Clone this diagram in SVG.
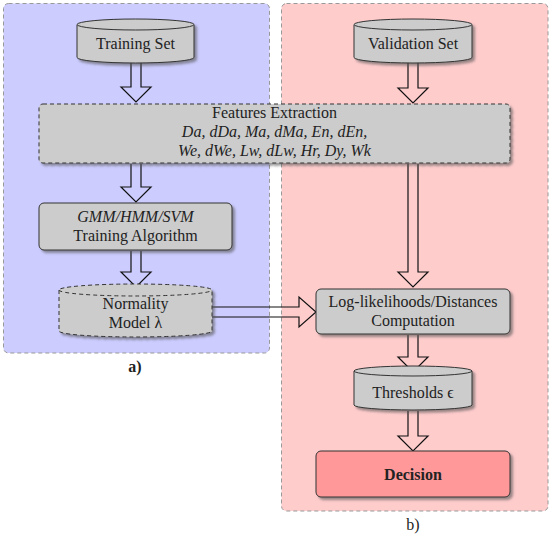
<svg xmlns="http://www.w3.org/2000/svg" width="550" height="536" viewBox="0 0 550 536">
<defs>
<filter id="sh" x="-10%" y="-10%" width="130%" height="140%">
<feDropShadow dx="2.5" dy="2.5" stdDeviation="1.2" flood-color="#555" flood-opacity="0.6"/>
</filter>
<style>
.panel{stroke:#999;stroke-width:1;stroke-dasharray:4 3}
.node{fill:#cccccc;stroke:#333;stroke-width:1}
.dash{stroke-dasharray:4 3}
.arr{fill:none;stroke:#111;stroke-width:1.2;stroke-linejoin:miter}
.t{font-family:'Liberation Serif','DejaVu Serif',serif;font-size:16px;fill:#222;text-anchor:middle}
.it{font-style:italic}
.b{font-weight:bold}
</style>
</defs>
<rect width="550" height="536" fill="#fff"/>
<g id="panel-a"><rect class="panel" x="3.5" y="3.5" width="266" height="349.5" rx="5" fill="#ccccff"/></g>
<g id="panel-b"><rect class="panel" x="281.5" y="3.5" width="266.5" height="507.5" rx="5" fill="#ffcccc"/></g>

<g id="connectors">
<path class="arr" d="M131,63 V87 H121 L136,102 L151,87 H141 V63"/>
<path class="arr" d="M408,63 V88 H398 L413,103 L428,88 H418 V63"/>
<path class="arr" d="M131,164 V187 H121 L136,202 L151,187 H141 V164"/>
<path class="arr" d="M408,164 V272 H398 L413,287 L428,272 H418 V164"/>
<path class="arr" d="M131,251 V272 H121 L136,287 L151,272 H141 V251"/>
<path class="arr" d="M212,307 H299 V297 L316,312 L299,327 V317 H212"/>
<path class="arr" d="M408,335 V357 H398 L413,372 L428,357 H418 V335"/>
<path class="arr" d="M408,411 V436 H398 L413,451 L428,436 H418 V411"/>
</g>

<g id="training-set">
<g filter="url(#sh)">
<path class="node" d="M77,24.5 V57.5 A58.5,5.5 0 0 0 194,57.5 V24.5 A58.5,5.5 0 0 0 77,24.5 Z"/>
<path class="node" fill="none" d="M77,24.5 A58.5,5.5 0 0 0 194,24.5"/>
</g>
<text class="t" x="135.5" y="49">Training Set</text>
</g>

<g id="validation-set">
<g filter="url(#sh)">
<path class="node" d="M354,24.5 V57.5 A59,5.5 0 0 0 472,57.5 V24.5 A59,5.5 0 0 0 354,24.5 Z"/>
<path class="node" fill="none" d="M354,24.5 A59,5.5 0 0 0 472,24.5"/>
</g>
<text class="t" x="413" y="49">Validation Set</text>
</g>

<g id="features">
<rect class="node dash" x="39" y="104" width="471" height="59" rx="4" filter="url(#sh)"/>
<text class="t" x="274.5" y="118">Features Extraction</text>
<text class="t it" x="274.5" y="137">Da, dDa, Ma, dMa, En, dEn,</text>
<text class="t it" x="274.5" y="156">We, dWe, Lw, dLw, Hr, Dy, Wk</text>
</g>

<g id="training-algorithm">
<rect class="node" x="39" y="203" width="193" height="47" rx="5" filter="url(#sh)"/>
<text class="t it" x="135.5" y="222">GMM/HMM/SVM</text>
<text class="t" x="135.5" y="241">Training Algorithm</text>
</g>

<g id="normality-model">
<g filter="url(#sh)">
<path class="node dash" d="M59,290 V331 A76.5,6 0 0 0 212,331 V290 A76.5,6 0 0 0 59,290 Z"/>
<path class="node dash" fill="none" d="M59,290 A76.5,6 0 0 0 212,290"/>
</g>
<text class="t" x="135.5" y="309">Normality</text>
<text class="t" x="135.5" y="328">Model λ</text>
</g>

<g id="loglik">
<rect class="node" x="316" y="289" width="194" height="45" rx="5" filter="url(#sh)"/>
<text class="t" x="413" y="307">Log-likelihoods/Distances</text>
<text class="t" x="413" y="326">Computation</text>
</g>

<g id="thresholds">
<g filter="url(#sh)">
<path class="node" d="M354,371 V405 A59,5 0 0 0 472,405 V371 A59,5 0 0 0 354,371 Z"/>
<path class="node" fill="none" d="M354,371 A59,5 0 0 0 472,371"/>
</g>
<text class="t" x="413" y="398">Thresholds ϵ</text>
</g>

<g id="decision">
<rect x="316" y="451" width="194" height="46" rx="5" fill="#ff9999" stroke="#333" stroke-width="1" filter="url(#sh)"/>
<text class="t b" x="413" y="480">Decision</text>
</g>

<text class="t b" x="135" y="372">a)</text>
<text class="t" x="413" y="530">b)</text>
</svg>
